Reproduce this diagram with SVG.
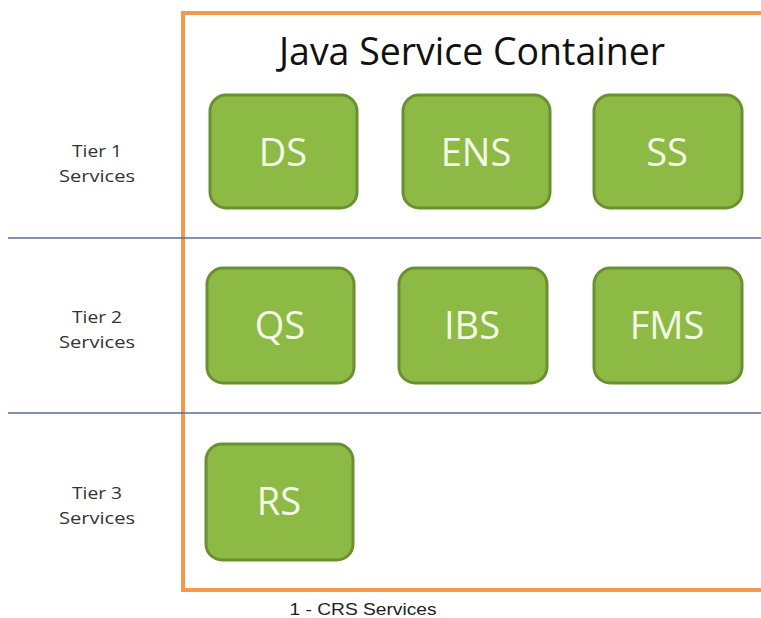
<svg xmlns="http://www.w3.org/2000/svg" width="761" height="618" viewBox="0 0 761 618">
  <style>
    .svc rect { fill: #8dba44; stroke: #6b9031; stroke-width: 3; }
    .svc text { font-family: "Open Sans", "Liberation Sans", sans-serif; font-size: 38px; fill: #f3f9e6; text-anchor: middle; }
    .tier text { font-family: "Open Sans", "Liberation Sans", sans-serif; font-size: 16px; fill: #333; text-anchor: middle; }
    .divider { stroke: #5d6b99; stroke-width: 1.5; }
  </style>
  <rect width="761" height="618" fill="#ffffff"/>

  <!-- container frame -->
  <g id="container">
    <rect x="183" y="13" width="600" height="577" fill="none" stroke="#f29a4c" stroke-width="4"/>
    <text x="472" y="65" font-family="Open Sans, Liberation Sans, sans-serif" font-size="39" fill="#111" text-anchor="middle" textLength="386" lengthAdjust="spacingAndGlyphs">Java Service Container</text>
  </g>

  <!-- tier separators -->
  <g id="dividers">
    <line class="divider" x1="8" y1="238" x2="761" y2="238"/>
    <line class="divider" x1="8" y1="413" x2="761" y2="413"/>
  </g>

  <!-- tier labels -->
  <g id="tier1" class="tier">
    <text x="97" y="157" textLength="50" lengthAdjust="spacingAndGlyphs">Tier 1</text>
    <text x="97" y="182" textLength="76" lengthAdjust="spacingAndGlyphs">Services</text>
  </g>
  <g id="tier2" class="tier">
    <text x="97" y="323" textLength="50" lengthAdjust="spacingAndGlyphs">Tier 2</text>
    <text x="97" y="348" textLength="76" lengthAdjust="spacingAndGlyphs">Services</text>
  </g>
  <g id="tier3" class="tier">
    <text x="97" y="499" textLength="50" lengthAdjust="spacingAndGlyphs">Tier 3</text>
    <text x="97" y="524" textLength="76" lengthAdjust="spacingAndGlyphs">Services</text>
  </g>

  <!-- services -->
  <g id="DS" class="svc">
    <rect x="210" y="95" width="147" height="113" rx="16"/>
    <text x="283" y="166">DS</text>
  </g>
  <g id="ENS" class="svc">
    <rect x="403" y="95" width="147" height="113" rx="16"/>
    <text x="476" y="166">ENS</text>
  </g>
  <g id="SS" class="svc">
    <rect x="594" y="95" width="148" height="113" rx="16"/>
    <text x="667" y="166">SS</text>
  </g>
  <g id="QS" class="svc">
    <rect x="207" y="268" width="147" height="115" rx="16"/>
    <text x="280" y="339">QS</text>
  </g>
  <g id="IBS" class="svc">
    <rect x="399" y="268" width="148" height="115" rx="16"/>
    <text x="472" y="339">IBS</text>
  </g>
  <g id="FMS" class="svc">
    <rect x="594" y="268" width="148" height="115" rx="16"/>
    <text x="667" y="339">FMS</text>
  </g>
  <g id="RS" class="svc">
    <rect x="206" y="444" width="147" height="116" rx="16"/>
    <text x="279" y="515">RS</text>
  </g>

  <!-- caption -->
  <text x="363" y="615" font-family="Liberation Sans, Arial, sans-serif" font-size="17" fill="#222" text-anchor="middle" textLength="147" lengthAdjust="spacingAndGlyphs">1 - CRS Services</text>
</svg>
